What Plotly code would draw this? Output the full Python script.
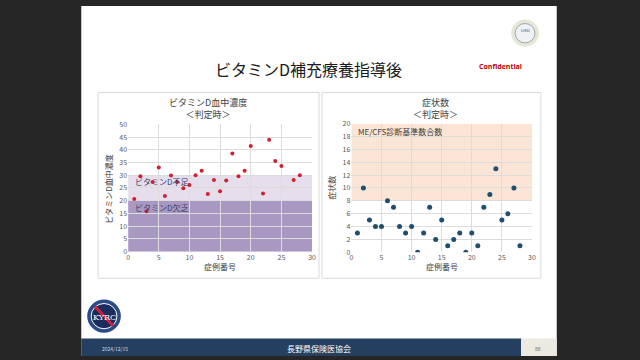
import plotly.graph_objects as go

W, H = 640, 360
FONT = "Noto Sans CJK JP"

# ---- data ----
case_vd = [1, 2, 3, 4, 5, 6, 7, 8, 9, 10, 11, 12, 13, 14, 15, 16, 17, 18, 19, 20, 22, 23, 24, 25, 27, 28]
vitd = [20.7, 29.6, 15.9, 27.4, 33.0, 21.9, 29.9, 27.4, 24.9, 26.2, 30.0, 31.8, 22.6, 28.1, 23.7, 27.9,
        38.5, 29.6, 31.8, 41.5, 22.8, 43.9, 35.6, 33.6, 28.1, 30.0]
case_sym = list(range(1, 29))
symptoms = [3, 10, 5, 4, 4, 8, 7, 4, 3, 4, 0, 3, 7, 2, 5, 1, 2, 3, 0, 3, 1, 7, 9, 13, 5, 6, 10, 1]

vd_bands = [(0, 20, "#a898c2", "ビタミンD欠乏", 17.3), (20, 30, "#e6deec", "ビタミンD不足", 27.5)]
sym_band = (8, 20, "#fbe5d6", "ME/CFS診断基準数合数", 18.8)


def px(x):
    return x / W


def py(y):
    return 1 - y / H


fig = go.Figure()
fig.add_trace(go.Scatter(x=case_vd, y=vitd, mode="markers", xaxis="x", yaxis="y",
                         marker=dict(color="#d01f2e", size=4), showlegend=False))
fig.add_trace(go.Scatter(x=case_sym, y=symptoms, mode="markers", xaxis="x2", yaxis="y2",
                         marker=dict(color="#1f4e6e", size=5), showlegend=False))

shapes = []
ann = []


def text(x, y, t, size, color, family=FONT, angle=0, xanchor="center"):
    ann.append(dict(xref="paper", yref="paper", x=px(x), y=py(y), text=t, showarrow=False,
                    xanchor=xanchor, yanchor="middle", textangle=angle,
                    font=dict(family=family, size=size, color=color)))


# slide background
shapes.append(dict(type="rect", xref="paper", yref="paper", x0=px(80), x1=px(560), y0=0, y1=1,
                   fillcolor="white", line=dict(width=0), layer="below"))
# panels
for x0, x1 in [(97, 320), (323, 544)]:
    shapes.append(dict(type="rect", xref="paper", yref="paper", x0=px(x0), x1=px(x1), y0=py(280), y1=py(89),
                       fillcolor="white", line=dict(color="#d9d9d9", width=1), layer="below"))
# footer
shapes.append(dict(type="rect", xref="paper", yref="paper", x0=px(80), x1=px(524), y0=0, y1=py(342),
                   fillcolor="#243f60", line=dict(width=0), layer="below"))
shapes.append(dict(type="rect", xref="paper", yref="paper", x0=px(524), x1=px(560), y0=0, y1=py(342),
                   fillcolor="#ece9e0", line=dict(width=0), layer="below"))

# bands
for y0, y1, c, label, ly in vd_bands:
    shapes.append(dict(type="rect", xref="x", yref="y", x0=0, x1=30, y0=y0, y1=y1,
                       fillcolor=c, line=dict(width=0), layer="below"))
    ann.append(dict(xref="x", yref="y", x=0.8, y=ly, text=label, showarrow=False, xanchor="left",
                    yanchor="middle", font=dict(family=FONT, size=8, color="#33406e")))
y0, y1, c, label, ly = sym_band
shapes.append(dict(type="rect", xref="x2", yref="y2", x0=0, x1=30, y0=y0, y1=y1,
                   fillcolor=c, line=dict(width=0), layer="below"))
ann.append(dict(xref="x2", yref="y2", x=0.8, y=ly, text=label, showarrow=False, xanchor="left",
                yanchor="middle", font=dict(family=FONT, size=8, color="#404040")))


# logos
def circle(cx, cy, r, fill, line="rgba(0,0,0,0)", lw=0):
    return dict(type="circle", xref="paper", yref="paper", x0=px(cx - r), x1=px(cx + r),
                y0=py(cy + r), y1=py(cy - r), fillcolor=fill, line=dict(color=line, width=lw))


shapes.append(circle(103, 319, 17, "#2a4a8a"))
shapes.append(circle(103, 319, 13, "#1a2d5e", "white", 1))
shapes.append(dict(type="line", xref="paper", yref="paper", x0=px(94), y0=py(309), x1=px(112), y1=py(329),
                   line=dict(color="#d0203a", width=3)))
text(103, 320, "KYRC", 8, "white", family="DejaVu Serif")
shapes.append(circle(528, 28, 14, "#e4e8d4"))
shapes.append(circle(528, 28, 10, "#eef2f4", "#9aa8b0", 1))
text(528, 25, "LHSI", 4, "#1f3e6e")

# titles
text(309, 65, "ビタミンD補充療養指導後", 16, "#1a1a1a")
text(503, 62, "<b>Confidential</b>", 7, "#c00000", family="Open Sans")
text(208, 105, "ビタミンD血中濃度<br>＜判定時＞", 9, "#404040")
text(438, 105, "症状数<br>＜判定時＞", 9, "#404040")
text(220, 268, "症例番号", 8, "#404040")
text(444, 268, "症例番号", 8, "#404040")
text(108, 188, "ビタミンD血中濃度", 8, "#404040", angle=-90)
text(333, 187, "症状数", 8, "#404040", angle=-90)
text(114, 352, "2024/12/15", 5, "#d0d8e0")
text(320, 352, "長野県保険医協会", 8, "white")
text(541, 352, "88", 5, "#606060")

axis_common = dict(showgrid=True, gridcolor="#dcdcdc", gridwidth=1, zeroline=False, showline=False,
                   tickfont=dict(family=FONT, size=7, color="#595959"), ticks="", fixedrange=True)

fig.update_layout(
    width=W, height=H, margin=dict(l=0, r=0, t=0, b=0),
    paper_bgcolor="#262626", plot_bgcolor="white",
    shapes=shapes, annotations=ann, showlegend=False,
    xaxis=dict(domain=[px(127.3), px(313)], range=[0, 30], dtick=5, anchor="y", **axis_common),
    yaxis=dict(domain=[py(252.7), py(121.7)], range=[0, 50], dtick=5, anchor="x", **axis_common),
    xaxis2=dict(domain=[px(352.7), px(535)], range=[0, 30], dtick=5, anchor="y2", **axis_common),
    yaxis2=dict(domain=[py(253.3), py(121)], range=[0, 20], dtick=2, anchor="x2", **axis_common),
)

fig.write_html("out.html", config={"displayModeBar": False},
               post_script="document.body.style.margin='0';document.body.style.background='#262626';")
